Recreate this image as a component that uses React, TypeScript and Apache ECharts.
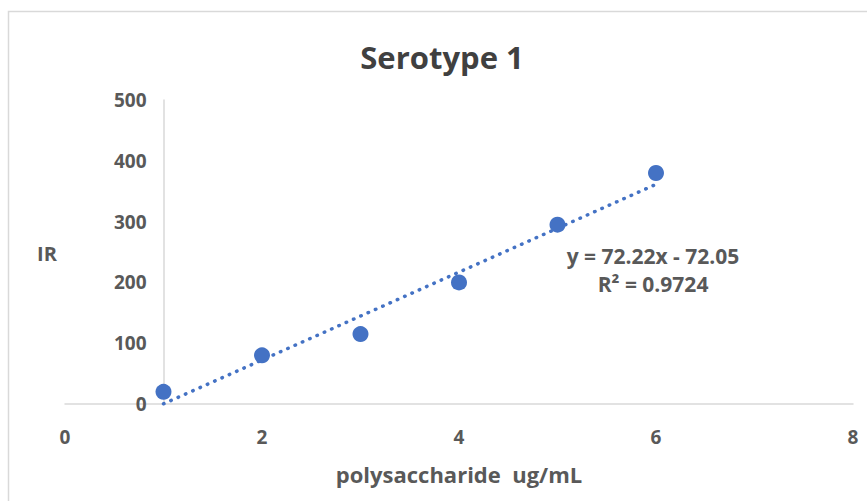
import React, { useEffect, useRef } from "react";
import * as echarts from "echarts";

const xValues = [1, 2, 3, 4, 5, 6];
const yValues = [20, 80, 115, 200, 295, 380];
const trendSlope = 72.22;
const trendIntercept = -72.05;
const trendXRange = [1, 6];
const xTicks = [0, 2, 4, 6, 8];
const yTicks = [0, 100, 200, 300, 400, 500];

const FONT = "'Open Sans', Lato, sans-serif";
const TXT = "#595959";
const BLUE = "#4472C4";

export default function App() {
  const ref = useRef<HTMLDivElement>(null);
  useEffect(() => {
    if (!ref.current) return;
    const chart = echarts.init(ref.current, undefined, { renderer: "svg" });
    const points = xValues.map((x, i) => [x, yValues[i]]);
    const trend = trendXRange.map((x) => [x, trendSlope * x + trendIntercept]);
    chart.setOption({
      animation: false,
      backgroundColor: "#ffffff",
      textStyle: { fontFamily: FONT },
      graphic: [
        {
          type: "rect",
          shape: { x: 8.5, y: 11.5, width: 900, height: 600 },
          style: { fill: "none", stroke: "#d9d9d9", lineWidth: 1.5 },
          silent: true,
        },
        {
          type: "text",
          x: 442,
          y: 57,
          style: {
            text: "Serotype 1",
            font: `bold 31px ${FONT}`,
            fill: "#404040",
            align: "center",
            verticalAlign: "middle",
          },
        },
        {
          type: "text",
          x: 47,
          y: 253,
          style: {
            text: "IR",
            font: `bold 20px ${FONT}`,
            fill: TXT,
            align: "center",
            verticalAlign: "middle",
          },
        },
        {
          type: "text",
          x: 653,
          y: 256,
          style: {
            text: `y = ${trendSlope}x - ${Math.abs(trendIntercept).toFixed(2)}`,
            font: `bold 21px ${FONT}`,
            fill: TXT,
            align: "center",
            verticalAlign: "middle",
          },
        },
        {
          type: "text",
          x: 653,
          y: 284,
          style: {
            text: "R² = 0.9724",
            font: `bold 21px ${FONT}`,
            fill: TXT,
            align: "center",
            verticalAlign: "middle",
          },
        },
      ],
      grid: { left: 65, right: 14, top: 100, bottom: 97, containLabel: false },
      xAxis: {
        type: "value",
        min: 0,
        max: 8,
        interval: 2,
        name: "polysaccharide  ug/mL",
        nameLocation: "middle",
        nameGap: 59,
        nameTextStyle: { fontFamily: FONT, fontWeight: "bold", fontSize: 22, color: TXT },
        axisLine: { show: true, lineStyle: { color: "#d9d9d9", width: 1.5 } },
        axisTick: { show: false },
        splitLine: { show: false },
        axisLabel: {
          fontFamily: FONT,
          fontWeight: "bold",
          fontSize: 19,
          color: TXT,
          margin: 23,
          formatter: (v: number) => (xTicks.includes(v) ? String(v) : ""),
        },
      },
      yAxis: {
        type: "value",
        min: 0,
        max: 500,
        interval: 100,
        offset: -98.5,
        axisLine: { show: true, onZero: false, lineStyle: { color: "#d9d9d9", width: 1.5 } },
        axisTick: { show: false },
        splitLine: { show: false },
        axisLabel: {
          fontFamily: FONT,
          fontWeight: "bold",
          fontSize: 19,
          color: TXT,
          margin: 17,
          formatter: (v: number) => (yTicks.includes(v) ? String(v) : ""),
        },
      },
      series: [
        {
          type: "line",
          data: trend,
          symbol: "none",
          lineStyle: { color: BLUE, width: 3.5, type: [0.5, 7.5], cap: "round" },
          z: 1,
        },
        {
          type: "scatter",
          data: points,
          symbolSize: 16,
          itemStyle: { color: BLUE, opacity: 1 },
          z: 2,
        },
      ],
    });
    return () => chart.dispose();
  }, []);
  return (
    <div
      ref={ref}
      style={{ position: "fixed", left: 0, top: 0, width: 867, height: 501 }}
    />
  );
}
